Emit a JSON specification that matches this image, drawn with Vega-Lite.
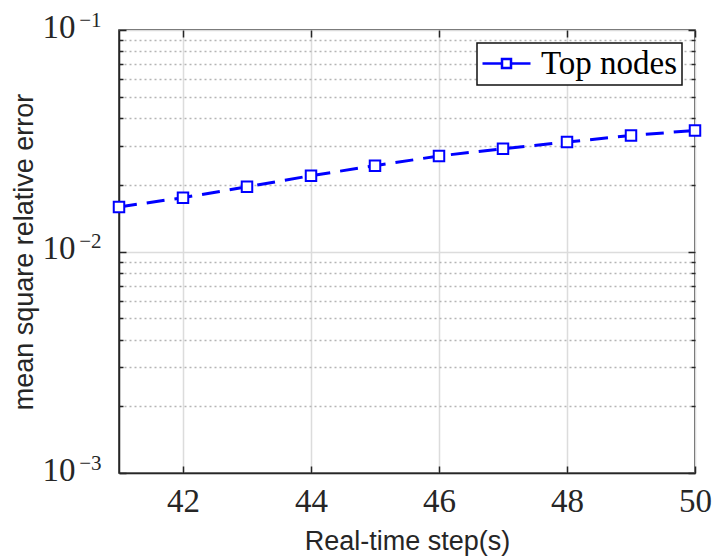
{
  "$schema": "https://vega.github.io/schema/vega-lite/v6.json",
  "width": 576,
  "height": 443,
  "autosize": {"type": "none"},
  "padding": {"left": 119, "top": 30, "right": 18, "bottom": 87},
  "background": "white",
  "config": {
    "view": {"stroke": "#262626", "strokeWidth": 1.5},
    "legend": {"strokeColor": "#111111", "strokeWidth": 1.5, "fillColor": "white"}
  },
  "data": {
    "values": [
      {"step": 41, "error": 0.0159},
      {"step": 42, "error": 0.0175},
      {"step": 43, "error": 0.0196},
      {"step": 44, "error": 0.0220},
      {"step": 45, "error": 0.0244},
      {"step": 46, "error": 0.0270},
      {"step": 47, "error": 0.0291},
      {"step": 48, "error": 0.0312},
      {"step": 49, "error": 0.0334},
      {"step": 50, "error": 0.0352}
    ]
  },
  "layer": [
    {
      "mark": {
        "type": "line",
        "strokeWidth": 3,
        "strokeDash": [18, 10],
        "point": {"shape": "square", "filled": false, "fill": "white", "size": 110, "strokeWidth": 2}
      },
      "encoding": {
        "x": {
          "field": "step",
          "type": "quantitative",
          "scale": {"domain": [41, 50], "nice": false},
          "axis": {
            "values": [42, 44, 46, 48, 50],
            "title": "Real-time step(s)",
            "titleFont": "Liberation Sans",
            "titleFontSize": 27,
            "titleFontWeight": "normal",
            "titleColor": "#262626",
            "titlePadding": 10,
            "labelFont": "Liberation Serif",
            "labelFontSize": 33,
            "labelColor": "#262626",
            "labelPadding": 19,
            "labelFlush": false,
            "labelOverlap": false,
            "tickSize": -7,
            "tickColor": "#262626",
            "tickWidth": 1.5,
            "domainColor": "#262626",
            "domainWidth": 1.5,
            "grid": true,
            "gridColor": "#dcdcdc",
            "gridWidth": 1.5
          }
        },
        "y": {
          "field": "error",
          "type": "quantitative",
          "scale": {"type": "log", "domain": [0.001, 0.1], "nice": false},
          "axis": {
            "orient": "left",
            "values": [0.001, 0.002, 0.003, 0.004, 0.005, 0.006, 0.007, 0.008, 0.009, 0.01, 0.02, 0.03, 0.04, 0.05, 0.06, 0.07, 0.08, 0.09, 0.1],
            "title": "mean square relative error",
            "titleFont": "Liberation Sans",
            "titleFontSize": 27,
            "titleFontWeight": "normal",
            "titleColor": "#262626",
            "titlePadding": 4,
            "labelFont": "Liberation Serif",
            "labelFontSize": 33,
            "labelColor": "#262626",
            "labelPadding": 51,
            "labelOffset": -3,
            "labelFlush": false,
            "labelOverlap": false,
            "labelBound": false,
            "labelExpr": "abs(log(datum.value)/LN10 - round(log(datum.value)/LN10)) < 1e-6 ? '10' : ''",
            "tickSize": {"condition": {"test": "abs(log(datum.value)/LN10 - round(log(datum.value)/LN10)) < 1e-6", "value": -7}, "value": -4},
            "tickColor": "#262626",
            "tickWidth": 1.5,
            "domainColor": "#262626",
            "domainWidth": 1.5,
            "grid": true,
            "gridColor": {"condition": {"test": "abs(log(datum.value)/LN10 - round(log(datum.value)/LN10)) < 1e-6", "value": "#dcdcdc"}, "value": "#b5b5b5"},
            "gridDash": {"condition": {"test": "abs(log(datum.value)/LN10 - round(log(datum.value)/LN10)) < 1e-6", "value": []}, "value": [2, 3]},
            "gridWidth": {"condition": {"test": "abs(log(datum.value)/LN10 - round(log(datum.value)/LN10)) < 1e-6", "value": 1.5}, "value": 1.3}
          }
        },
        "color": {
          "datum": "Top nodes",
          "scale": {"range": ["#0000ff"]},
          "legend": {
            "title": null,
            "orient": "top-right",
            "offset": 13,
            "padding": 4,
            "labelFont": "Liberation Serif",
            "labelFontSize": 33,
            "labelColor": "#000000",
            "labelOffset": 18,
            "symbolType": "M-1.6,0H-0.3M0.3,0H1.6M-0.3,-0.3H0.3V0.3H-0.3Z",
            "symbolSize": 900,
            "symbolOffset": 9,
            "symbolStrokeWidth": 2.5,
            "symbolFillColor": "white",
            "symbolStrokeColor": "#0000ff",
            "symbolDash": []
          }
        }
      }
    },
    {
      "mark": {"type": "point", "opacity": 0},
      "encoding": {
        "x": {
          "field": "step",
          "type": "quantitative",
          "axis": {
            "orient": "top",
            "values": [42, 44, 46, 48, 50],
            "title": null,
            "labels": false,
            "grid": false,
            "domain": false,
            "tickSize": -7,
            "tickColor": "#262626",
            "tickWidth": 1.5
          }
        },
        "y": {
          "field": "error",
          "type": "quantitative",
          "axis": {
            "orient": "right",
            "values": [0.001, 0.002, 0.003, 0.004, 0.005, 0.006, 0.007, 0.008, 0.009, 0.01, 0.02, 0.03, 0.04, 0.05, 0.06, 0.07, 0.08, 0.09, 0.1],
            "title": null,
            "labels": false,
            "grid": false,
            "domain": false,
            "tickSize": {"condition": {"test": "abs(log(datum.value)/LN10 - round(log(datum.value)/LN10)) < 1e-6", "value": -7}, "value": -4},
            "tickColor": "#262626",
            "tickWidth": 1.5
          }
        }
      }
    },
    {
      "mark": {"type": "point", "opacity": 0},
      "encoding": {
        "x": {"field": "step", "type": "quantitative", "axis": null},
        "y": {
          "field": "error",
          "type": "quantitative",
          "axis": {
            "orient": "left",
            "values": [0.001, 0.01, 0.1],
            "title": null,
            "labels": true,
            "labelExpr": "round(log(datum.value)/LN10) == -1 ? '−1' : round(log(datum.value)/LN10) == -2 ? '−2' : '−3'",
            "labelFont": "Liberation Serif",
            "labelFontSize": 21,
            "labelColor": "#262626",
            "labelPadding": 18,
            "labelOffset": -10,
            "labelFlush": false,
            "labelOverlap": false,
            "labelBound": false,
            "ticks": false,
            "grid": false,
            "domain": false
          }
        }
      }
    }
  ],
  "resolve": {"axis": {"x": "independent", "y": "independent"}}
}
